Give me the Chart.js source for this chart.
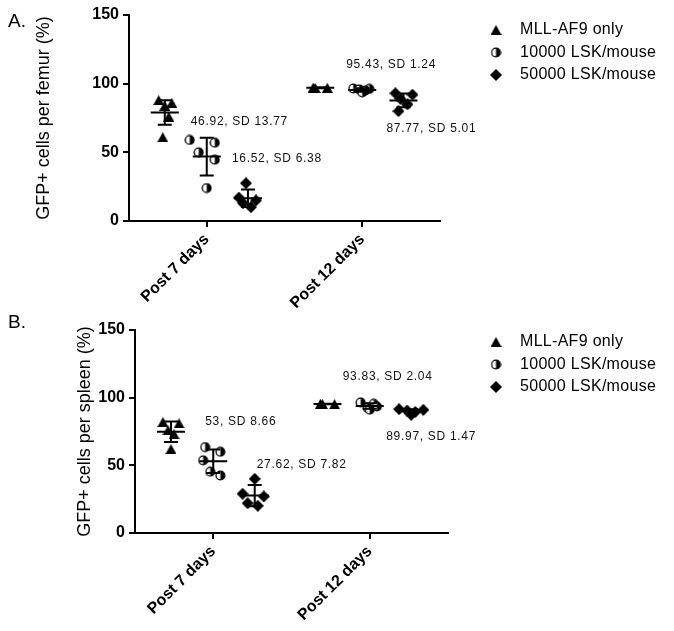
<!DOCTYPE html>
<html>
<head>
<meta charset="utf-8">
<script src="https://cdn.jsdelivr.net/npm/chart.js@4.4.0/dist/chart.umd.min.js"></script>
<style>
  body { margin: 0; background: #fff; }
  #wrap { position: relative; width: 674px; height: 631px; }
  #wrap canvas { position: absolute; left: 0; }
</style>
</head>
<body>
<div id="wrap">
  <canvas id="femur" width="674" height="315" style="top:0px"></canvas>
  <canvas id="spleen" width="674" height="316" style="top:315px"></canvas>
</div>
<script>
const timepoints = ['Post 7 days', 'Post 12 days'];
const groups = ['MLL-AF9 only', '10000 LSK/mouse', '50000 LSK/mouse'];
const yTicks = [0, 50, 100, 150];

// panel A - femur, each group: [post 7 days], [post 12 days]
const femurMLL = [[88, 86, 84, 76, 61], [97.2, 97.0, 96.8]];
const femur10k = [[59, 57, 50, 44.6, 24], [96.5, 96.2, 95.8, 95.0, 93.7]];
const femur50k = [[27.5, 17, 15, 13, 10.1], [93, 92, 88.9, 85, 80]];
const femurMean = [[79, 46.92, 16.52], [97, 95.43, 87.77]];
const femurSD = [[9, 13.77, 6.38], [0.3, 1.24, 5.01]];

// panel B - spleen
const spleenMLL = [[82, 81, 76, 73, 62], [95.5, 95.2, 95.3]];
const spleen10k = [[63.5, 60, 53.7, 45.3, 42.5], [96.5, 95.5, 93.5, 92.5, 91.15]];
const spleen50k = [[40, 29, 27, 22, 20.1], [91.5, 91, 90.5, 89.5, 87.35]];
const spleenMean = [[74.8, 53, 27.62], [95.3, 93.83, 89.97]];
const spleenSD = [[7.5, 8.66, 7.82], [0.2, 2.04, 1.47]];

// layout stuff (not data)
const groupShift = [-0.27, 0, 0.265];
const PX_PER_UNIT = 155;
const femurJitter = [
  [[-6, 7, 0, 4, -2], [-7, 7, -5]],
  [[-17, 8, -8, 8, 0], [-9, 7, -3, 3, 0]],
  [[-2, -9, 8, -5, 3], [-8, 9, -3, 4, -5]]
];
const spleenJitter = [
  [[-8, 8, -3, 3, 0], [-7, 7, -5]],
  [[-8, 7, -10, -3, 7], [-9, 4, 7, -2, 0]],
  [[0, -12, 9, -7, 3], [-12, 12, -4, 4, 0]]
];
// mean label offsets in px from (group x, mean y), null = no label
const femurLabelPos = [[null, [-16, -35], [-16, -40]], [null, [-16, -25], [-17, 28]]];
const spleenLabelPos = [[null, [-8, -40], [2, -31]], [null, [-27, -29], [-25, 25]]];

const FONT = "'Liberation Sans', Arial, sans-serif";

// marker images
function makeMarker(kind) {
  const c = document.createElement('canvas');
  const g = c.getContext('2d');
  if (kind === 'tri') {
    c.width = 11; c.height = 10;
    g.fillStyle = '#000';
    g.beginPath(); g.moveTo(5.5, 0); g.lineTo(11, 10); g.lineTo(0, 10); g.closePath(); g.fill();
  } else if (kind === 'half') {
    c.width = 11; c.height = 11;
    g.beginPath(); g.arc(5.5, 5.5, 4.4, 0, Math.PI * 2); g.fillStyle = '#fff'; g.fill();
    g.beginPath(); g.arc(5.5, 5.5, 4.4, -Math.PI / 2, Math.PI / 2); g.closePath(); g.fillStyle = '#000'; g.fill();
    g.beginPath(); g.arc(5.5, 5.5, 4.4, 0, Math.PI * 2); g.lineWidth = 1.3; g.strokeStyle = '#000'; g.stroke();
  } else {
    c.width = 12; c.height = 12;
    g.fillStyle = '#000';
    g.beginPath(); g.moveTo(6, 0); g.lineTo(12, 6); g.lineTo(6, 12); g.lineTo(0, 6); g.closePath(); g.fill();
  }
  return c;
}
const markers = [makeMarker('tri'), makeMarker('half'), makeMarker('dia')];

function seriesPoints(values, jitter, shift) {
  const pts = [];
  values.forEach(function(vals, t) {
    vals.forEach(function(v, i) {
      pts.push({x: t + shift + jitter[t][i] / PX_PER_UNIT, y: v});
    });
  });
  return pts;
}

function panelPlugin(p) {
  return {
    id: 'panel' + p.letter,
    afterDatasetsDraw(chart) {
      const ctx = chart.ctx;
      const x = chart.scales.x, y = chart.scales.y;
      ctx.save();
      ctx.strokeStyle = '#000';
      ctx.lineWidth = 2;
      p.means.forEach(function(row, t) {
        row.forEach(function(m, s) {
          const sd = p.sds[t][s];
          const cx = x.getPixelForValue(t + groupShift[s]);
          const yM = y.getPixelForValue(m);
          const yH = y.getPixelForValue(m + sd);
          const yL = y.getPixelForValue(m - sd);
          ctx.beginPath();
          ctx.moveTo(cx - 14, yM); ctx.lineTo(cx + 14, yM);
          ctx.moveTo(cx, yH); ctx.lineTo(cx, yL);
          ctx.moveTo(cx - 7, yH); ctx.lineTo(cx + 7, yH);
          ctx.moveTo(cx - 7, yL); ctx.lineTo(cx + 7, yL);
          ctx.stroke();
          const off = p.labelPos[t][s];
          if (off) {
            ctx.fillStyle = '#111';
            ctx.font = '12px ' + FONT;
            ctx.letterSpacing = '0.7px';
            ctx.textAlign = 'left';
            ctx.textBaseline = 'middle';
            ctx.fillText(m + ', SD ' + sd, cx + off[0], yM + off[1]);
          }
        });
      });
      ctx.restore();
    },
    afterDraw(chart) {
      const ctx = chart.ctx;
      ctx.save();
      ctx.fillStyle = '#000';
      ctx.textBaseline = 'middle';
      ctx.textAlign = 'left';
      ctx.font = '19px ' + FONT;
      ctx.fillText(p.letter + '.', 8, p.letterY);
      // legend
      ctx.font = '16px ' + FONT;
      ctx.letterSpacing = '0.3px';
      chart.data.datasets.forEach(function(ds, i) {
        const ly = p.legendY + i * 22.5;
        const img = ds.pointStyle;
        ctx.drawImage(img, 496 - img.width / 2, ly - img.height / 2);
        ctx.fillText(ds.label, 520, ly);
      });
      ctx.restore();
    }
  };
}

function makePanel(id, p) {
  const el = document.getElementById(id);
  return new Chart(el, {
    type: 'scatter',
    data: {
      datasets: groups.map(function(g, s) {
        return {
          label: g,
          data: seriesPoints(p.values[s], p.jitter[s], groupShift[s]),
          pointStyle: markers[s],
          backgroundColor: '#000',
          borderColor: '#000'
        };
      })
    },
    options: {
      responsive: false,
      animation: false,
      layout: { padding: { top: p.top, right: p.right, left: 0, bottom: 0 } },
      plugins: { legend: { display: false }, tooltip: { enabled: false } },
      scales: {
        x: {
          type: 'linear', min: -0.5, max: 1.5,
          afterFit: function(s) { s.height = p.xHeight; },
          afterBuildTicks: function(s) { s.ticks = timepoints.map(function(t, i) { return {value: i}; }); },
          ticks: {
            callback: function(v, i) { return timepoints[i]; },
            minRotation: 45, maxRotation: 45,
            color: '#000', padding: 3,
            font: { family: FONT, size: 16, weight: 'bold' }
          },
          grid: { drawOnChartArea: false, tickLength: 6, color: '#000', lineWidth: 2 },
          border: { color: '#000', width: 2 }
        },
        y: {
          min: 0, max: 150,
          afterFit: function(s) { s.width = p.yWidth; },
          afterBuildTicks: function(s) { s.ticks = yTicks.map(function(v) { return {value: v}; }); },
          ticks: {
            color: '#000', padding: 4,
            font: { family: FONT, size: 16, weight: 'bold' }
          },
          grid: { drawOnChartArea: false, tickLength: 6, color: '#000', lineWidth: 2 },
          border: { color: '#000', width: 2 },
          title: {
            display: true, text: p.yTitle, color: '#000',
            font: { family: FONT, size: 18 },
            padding: { top: p.titlePad, bottom: 0 }
          }
        }
      }
    },
    plugins: [panelPlugin(p)]
  });
}

makePanel('femur', {
  letter: 'A', letterY: 22, legendY: 30,
  values: [femurMLL, femur10k, femur50k], jitter: femurJitter,
  means: femurMean, sds: femurSD, labelPos: femurLabelPos,
  yTitle: 'GFP+ cells per femur (%)',
  top: 15, right: 234, yWidth: 129, xHeight: 94, titlePad: 33
});

makePanel('spleen', {
  letter: 'B', letterY: 8, legendY: 27,
  values: [spleenMLL, spleen10k, spleen50k], jitter: spleenJitter,
  means: spleenMean, sds: spleenSD, labelPos: spleenLabelPos,
  yTitle: 'GFP+ cells per spleen (%)',
  top: 15, right: 226, yWidth: 135, xHeight: 98, titlePad: 74
});
</script>
</body>
</html>
